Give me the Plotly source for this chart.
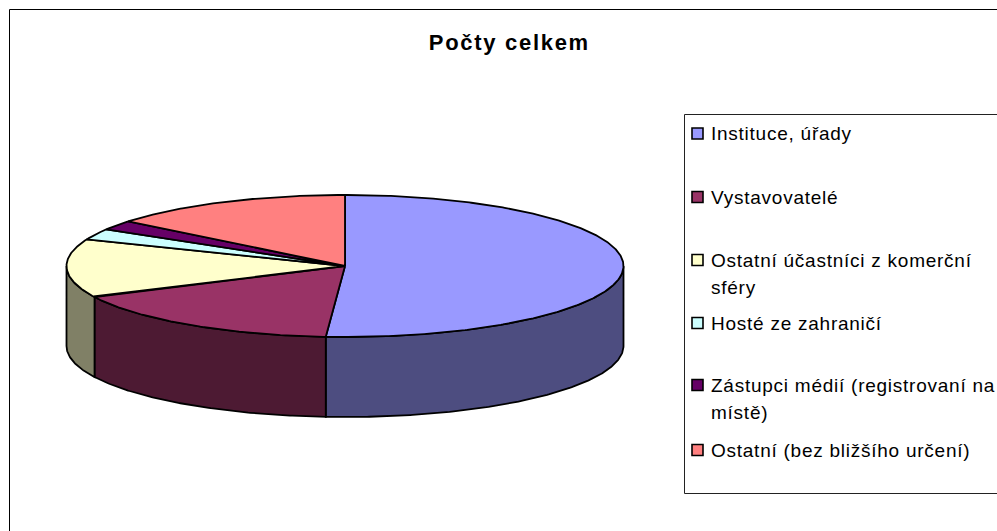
import numpy as np
import plotly.graph_objects as go

TITLE = "Počty celkem"
categories = ["Instituce, úřady", "Vystavovatelé", "Ostatní účastníci z komerční sféry",
              "Hosté ze zahraničí", "Zástupci médií (registrovaní na místě)",
              "Ostatní (bez bližšího určení)"]
label_lines = [["Instituce, úřady"], ["Vystavovatelé"], ["Ostatní účastníci z komerční", "sféry"],
               ["Hosté ze zahraničí"], ["Zástupci médií (registrovaní na", "místě)"],
               ["Ostatní (bez bližšího určení)"]]
values = [51.1, 16.7, 13.3, 2.5, 2.2, 14.2]
top_colors = ["#9999FF", "#993366", "#FFFFCC", "#CCFFFF", "#660066", "#FF8080"]
side_colors = ["#4D4D80", "#4D1A33", "#808066", "#668080", "#330033", "#804040"]

# layout constants (pixels of the 997x531 page)
W, H = 997, 531
CX, CY, RX, RY, DEPTH = 345, 266, 278.5, 71, 80
LEG_Y = [133.5, 197, 260, 323, 385, 450]
LINE_GAP = 27
FONT = "Liberation Sans"


def arc(t1, t2, dy=0.0):
    n = max(2, int(abs(t2 - t1) / 0.5) + 2)
    t = np.radians(np.linspace(t1, t2, n))
    return CX + RX * np.sin(t), CY - RY * np.cos(t) + dy


fig = go.Figure()
edges = np.concatenate([[0], np.cumsum(values) / np.sum(values) * 360])
line = dict(color="black", width=1.8)

# side walls (only the front half of the disc is visible)
for i, name in enumerate(categories):
    a, b = max(edges[i], 90), min(edges[i + 1], 270)
    if b <= a:
        continue
    x1, y1 = arc(a, b)
    x2, y2 = arc(b, a, DEPTH)
    fig.add_trace(go.Scatter(x=np.r_[x1, x2, x1[0]], y=np.r_[y1, y2, y1[0]], mode="lines",
                             fill="toself", fillcolor=side_colors[i], line=line,
                             hoverinfo="skip", showlegend=False))

# top face
for i, name in enumerate(categories):
    x1, y1 = arc(edges[i], edges[i + 1])
    fig.add_trace(go.Scatter(x=np.r_[CX, x1, CX], y=np.r_[CY, y1, CY], mode="lines",
                             fill="toself", fillcolor=top_colors[i], line=line,
                             name=name, hoverinfo="name", showlegend=False))

# legend swatches
fig.add_trace(go.Scatter(x=[697.5] * len(categories), y=LEG_Y, mode="markers",
                         marker=dict(symbol="square", size=11, color=top_colors,
                                     line=dict(color="black", width=1.6)),
                         hoverinfo="skip", showlegend=False))

annotations = [dict(x=509.5, y=42, text=f"<b>{TITLE}</b>", showarrow=False, xref="x", yref="y",
                    xanchor="center", yanchor="middle",
                    font=dict(family=FONT, size=22, color="black"))]
for yy, lines in zip(LEG_Y, label_lines):
    for j, t in enumerate(lines):
        annotations.append(dict(x=711, y=yy + j * LINE_GAP, text=t, showarrow=False, xref="x", yref="y",
                                xanchor="left", yanchor="middle", xshift=-2,
                                font=dict(family=FONT, size=19, color="black")))

shapes = [
    dict(type="rect", x0=9.5, y0=9.5, x1=1010, y1=545, line=dict(color="black", width=1), layer="below"),
    dict(type="rect", x0=684.5, y0=114.5, x1=1010, y1=493.5, line=dict(color="#222222", width=1), layer="below"),
]

fig.update_layout(
    width=W, height=H, autosize=False, margin=dict(l=0, r=0, t=0, b=0),
    paper_bgcolor="white", plot_bgcolor="white", showlegend=False,
    xaxis=dict(range=[0, W], visible=False, fixedrange=True),
    yaxis=dict(range=[H, 0], visible=False, fixedrange=True),
    annotations=annotations, shapes=shapes,
)
post = """
document.body.style.margin = '0';
document.body.style.overflow = 'hidden';
document.querySelectorAll('.annotation-text').forEach(function (t) {
  var isTitle = t.textContent.indexOf('Počty') === 0;
  var before = t.getComputedTextLength();
  t.style.letterSpacing = isTitle ? '1.7px' : '0.75px';
  if (!isTitle) {
    var after = t.getComputedTextLength();
    var x0 = parseFloat(t.getAttribute('x')) || 0;
    t.setAttribute('x', x0 + (after - before) / 2);
  }
});
"""
fig.write_html("out.html", config={"displayModeBar": False}, post_script=post)
